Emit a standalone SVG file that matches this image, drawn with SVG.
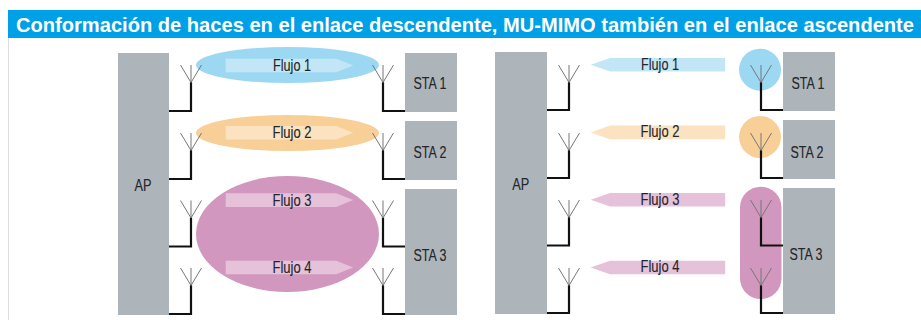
<svg xmlns="http://www.w3.org/2000/svg" width="921" height="320" viewBox="0 0 921 320">
<style>
text{font-family:"Liberation Sans",Arial,sans-serif}
.t{font-size:20.500px;font-weight:bold;fill:#fff}
.l{font-size:16.500px;fill:#26262a;text-anchor:middle;stroke:#26262a;stroke-width:.15}
.box{fill:#adb5bb}
.arm{fill:none;stroke:#777;stroke-width:1}
.feed{fill:none;stroke:#111;stroke-width:2.200}
.b1{fill:#9dd8f3}.o1{fill:#f8d097}.p1{fill:#d197bf}
.b2{fill:#c3e6f6}.o2{fill:#fbe2c0}.p2{fill:#e5c1da}
</style>
<defs>
<g id="ant"><path class="arm" d="M-10.500 0L0 17.500L10.500 0M0 0V17.500"/></g>
<polygon id="ar" points="0,0 110.500,0 127.500,6.800 110.500,13.600 0,13.600"/>
<polygon id="al" points="0,6.800 19.300,0 134.500,0 134.500,13.600 19.300,13.600"/>
</defs>
<rect width="921" height="320" fill="#fff"/>
<rect x="8" y="38" width="1" height="282" fill="#d9dde0"/>
<g id="banner"><rect x="8" y="10" width="913" height="28" fill="#00a0e6"/>
<text class="t" x="16" y="31.500" textLength="898" lengthAdjust="spacingAndGlyphs">Conformación de haces en el enlace descendente, MU-MIMO también en el enlace ascendente</text></g>

<g id="beams-left">
<ellipse class="b1" cx="287.500" cy="65" rx="91.500" ry="18"/>
<ellipse class="o1" cx="287.500" cy="133" rx="91.500" ry="18"/>
<ellipse class="p1" cx="287.500" cy="234" rx="91.500" ry="58"/>
</g>
<g id="beams-right">
<circle class="b1" cx="760" cy="69.700" r="21"/>
<circle class="o1" cx="760" cy="137" r="21"/>
<rect class="p1" x="740" y="186.700" width="41.500" height="112.300" rx="20.750"/>
</g>

<g id="connectors">
<path class="feed" d="M169 111H191V82M169 179H191V150M169 246.500H191V217.500M169 314H191V285"/>
<path class="feed" d="M405 111H383V82M405 179H383V150M405 246.500H383V217.500M405 314H383V285"/>
<path class="feed" d="M547 110H569V82M547 178H569V150M547 245.500H569V217M547 313H569V285"/>
<path class="feed" d="M783 110H761V82M783 178H761V150M783 245.500H761V217M783 313H761V285"/>
<use href="#ant" x="191" y="65"/><use href="#ant" x="191" y="133"/><use href="#ant" x="191" y="200.500"/><use href="#ant" x="191" y="268"/>
<use href="#ant" x="383" y="65"/><use href="#ant" x="383" y="133"/><use href="#ant" x="383" y="200.500"/><use href="#ant" x="383" y="268"/>
<use href="#ant" x="569" y="65"/><use href="#ant" x="569" y="133"/><use href="#ant" x="569" y="200"/><use href="#ant" x="569" y="268"/>
<use href="#ant" x="761" y="65"/><use href="#ant" x="761" y="133"/><use href="#ant" x="761" y="200"/><use href="#ant" x="761" y="268"/>
</g>

<g id="ap-left"><rect class="box" x="118" y="53" width="51" height="262"/><text class="l" x="143" y="190.500" textLength="17" lengthAdjust="spacingAndGlyphs">AP</text></g>
<g id="sta1-left"><rect class="box" x="405" y="53" width="52" height="59"/><text class="l" x="430" y="89" textLength="33" lengthAdjust="spacingAndGlyphs">STA 1</text></g>
<g id="sta2-left"><rect class="box" x="405" y="121" width="52" height="59"/><text class="l" x="430" y="158" textLength="33" lengthAdjust="spacingAndGlyphs">STA 2</text></g>
<g id="sta3-left"><rect class="box" x="405" y="189" width="52" height="126"/><text class="l" x="430" y="261" textLength="33" lengthAdjust="spacingAndGlyphs">STA 3</text></g>

<g id="flow1-left"><use href="#ar" class="b2" x="225.700" y="58.700"/><text class="l" x="292" y="70.500" textLength="38" lengthAdjust="spacingAndGlyphs">Flujo 1</text></g>
<g id="flow2-left"><use href="#ar" class="o2" x="225.700" y="126"/><text class="l" x="292" y="138" textLength="39" lengthAdjust="spacingAndGlyphs">Flujo 2</text></g>
<g id="flow3-left"><use href="#ar" class="p2" x="225.700" y="193.300"/><text class="l" x="292" y="206" textLength="39" lengthAdjust="spacingAndGlyphs">Flujo 3</text></g>
<g id="flow4-left"><use href="#ar" class="p2" x="225.700" y="260.700"/><text class="l" x="292" y="273" textLength="39" lengthAdjust="spacingAndGlyphs">Flujo 4</text></g>

<g id="ap-right"><rect class="box" x="495" y="52" width="52" height="262"/><text class="l" x="520.700" y="190" textLength="17" lengthAdjust="spacingAndGlyphs">AP</text></g>
<g id="sta1-right"><rect class="box" x="783" y="52" width="52" height="59"/><text class="l" x="808" y="89" textLength="33" lengthAdjust="spacingAndGlyphs">STA 1</text></g>
<g id="sta2-right"><rect class="box" x="783" y="120" width="52" height="59"/><text class="l" x="807" y="158" textLength="33" lengthAdjust="spacingAndGlyphs">STA 2</text></g>
<g id="sta3-right"><rect class="box" x="783" y="188" width="52" height="126"/><text class="l" x="806" y="260" textLength="33" lengthAdjust="spacingAndGlyphs">STA 3</text></g>

<g id="flow1-right"><use href="#al" class="b2" x="590.700" y="58"/><text class="l" x="660" y="70" textLength="38" lengthAdjust="spacingAndGlyphs">Flujo 1</text></g>
<g id="flow2-right"><use href="#al" class="o2" x="590.700" y="125.600"/><text class="l" x="660" y="137" textLength="39" lengthAdjust="spacingAndGlyphs">Flujo 2</text></g>
<g id="flow3-right"><use href="#al" class="p2" x="590.700" y="193"/><text class="l" x="660" y="205" textLength="39" lengthAdjust="spacingAndGlyphs">Flujo 3</text></g>
<g id="flow4-right"><use href="#al" class="p2" x="590.700" y="260.700"/><text class="l" x="660" y="272" textLength="39" lengthAdjust="spacingAndGlyphs">Flujo 4</text></g>
</svg>
